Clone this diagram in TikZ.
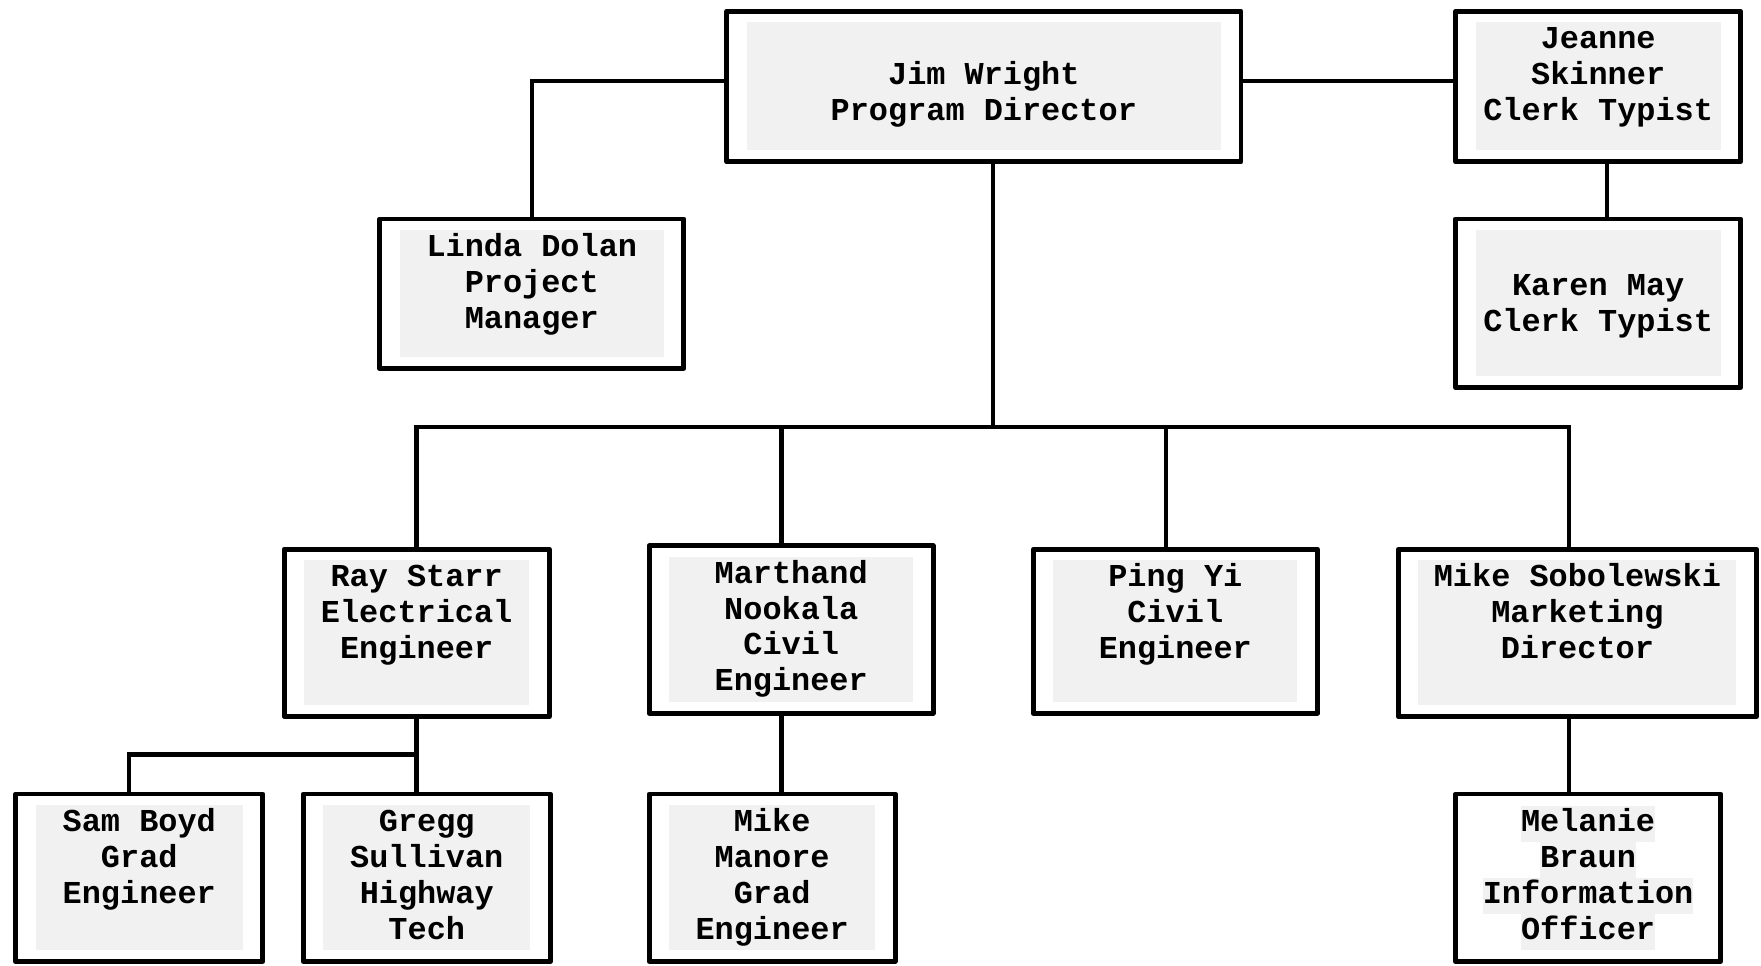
\documentclass[tikz,border=0pt]{standalone}
\usepackage{fontspec}
\setmonofont{Liberation Mono}
\usepackage{xcolor}
\usepackage{tikz}
\usetikzlibrary{positioning, calc}
\definecolor{cardgray}{RGB}{241, 241, 241}
\setlength{\fboxsep}{0pt}
\newcommand{\cardtext}[1]{\begin{tabular}[t]{@{}c@{}}#1\end{tabular}}
\newcommand{\graybar}[1]{\colorbox{cardgray}{\strut #1}}

\begin{document}
\begin{tikzpicture}[x=0.5pt, y=-0.5pt,
    plaincard/.style 2 args={draw, line width=2.2pt, line join=round, fill=white,
        inner sep=0pt, minimum width=#1, text height=16.6pt, text depth=#2,
        font=\ttfamily\bfseries\fontsize{14.2}{16}\selectfont},
    card/.style 2 args={plaincard={#1}{#2},
        path picture={\fill[cardgray] ([xshift=9pt, yshift=5pt]path picture bounding box.south west)
            rectangle ([xshift=-9pt, yshift=-5pt]path picture bounding box.north east);}},
    link/.style={line width=2pt}]
    \useasboundingbox (0,0) rectangle (1568,860);

    % Top row
    \node[card={229pt}{50.4pt}] (jim) at (876, 77) {\cardtext{\mbox{}\\Jim Wright\\Program Director}};
    \node[card={135.5pt}{49.9pt}] (linda) at (473.5, 261.5) {\cardtext{Linda Dolan\\Project\\Manager}};
    \node[card={127pt}{50.4pt}] (jeanne) at (1423, 77) {\cardtext{Jeanne\\Skinner\\Clerk Typist}};
    \node[card={127pt}{57pt}, text height=18pt] (karen) at (1423, 270) {\cardtext{\mbox{}\\Karen May\\Clerk Typist}};

    % Engineers
    \node[card={118pt}{57.9pt}] (ray) at (371, 563.5) {\cardtext{Ray Starr\\Electrical\\Engineer}};
    \node[card={126.5pt}{57.9pt}] (marthand) at (704.5, 560.5) {\cardtext{Marthand\\Nookala\\Civil\\Engineer}};
    \node[card={126.5pt}{56.4pt}] (ping) at (1046.5, 562) {\cardtext{Ping Yi\\Civil\\Engineer}};
    \node[card={159.5pt}{57.9pt}] (mikes) at (1404.5, 563.5) {\cardtext{Mike Sobolewski\\Marketing\\Director}};

    % Bottom row
    \node[card={110pt}{57.9pt}] (sam) at (124, 781.5) {\cardtext{Sam Boyd\\Grad\\Engineer}};
    \node[card={110pt}{57.9pt}] (gregg) at (380, 781.5) {\cardtext{Gregg\\Sullivan\\Highway\\Tech}};
    \node[card={109.5pt}{57.9pt}] (manore) at (687.5, 781.5) {\cardtext{Mike\\Manore\\Grad\\Engineer}};
    \node[plaincard={118pt}{57.9pt}] (melanie) at (1414, 781.5)
        {\cardtext{\graybar{Melanie}\\\graybar{Braun}\\\graybar{Information}\\\graybar{Officer}}};

    % Connectors
    \coordinate (bus) at (884, 380);
    \coordinate (split) at (371, 672);
    \draw[link] ([yshift=2.5pt]jim.west) -| (linda.north);
    \draw[link] ([yshift=2.5pt]jim.east) -- ([yshift=2.5pt]jeanne.west);
    \draw[link] ([xshift=4pt]jeanne.south) -- ([xshift=4pt]jeanne.south |- karen.north);
    \draw[link] ([xshift=4pt]jim.south) -- (bus);
    \draw[link] (ray.north) |- (bus) -| ([xshift=-3.75pt]mikes.north);
    \draw[link] ([xshift=-4.25pt]marthand.north) -- ([xshift=-4.25pt]marthand.north |- bus);
    \draw[link] ([xshift=-4.25pt]ping.north) -- ([xshift=-4.25pt]ping.north |- bus);
    \draw[link] (ray.south) -- (ray.south |- gregg.north);
    \draw[link] (split) -| ([xshift=-4.5pt]sam.north);
    \draw[link] ([xshift=-4.25pt]marthand.south) -- ([xshift=-4.25pt]marthand.south |- manore.north);
    \draw[link] ([xshift=-3.75pt]mikes.south) -- ([xshift=-3.75pt]mikes.south |- melanie.north);
\end{tikzpicture}
\end{document}
